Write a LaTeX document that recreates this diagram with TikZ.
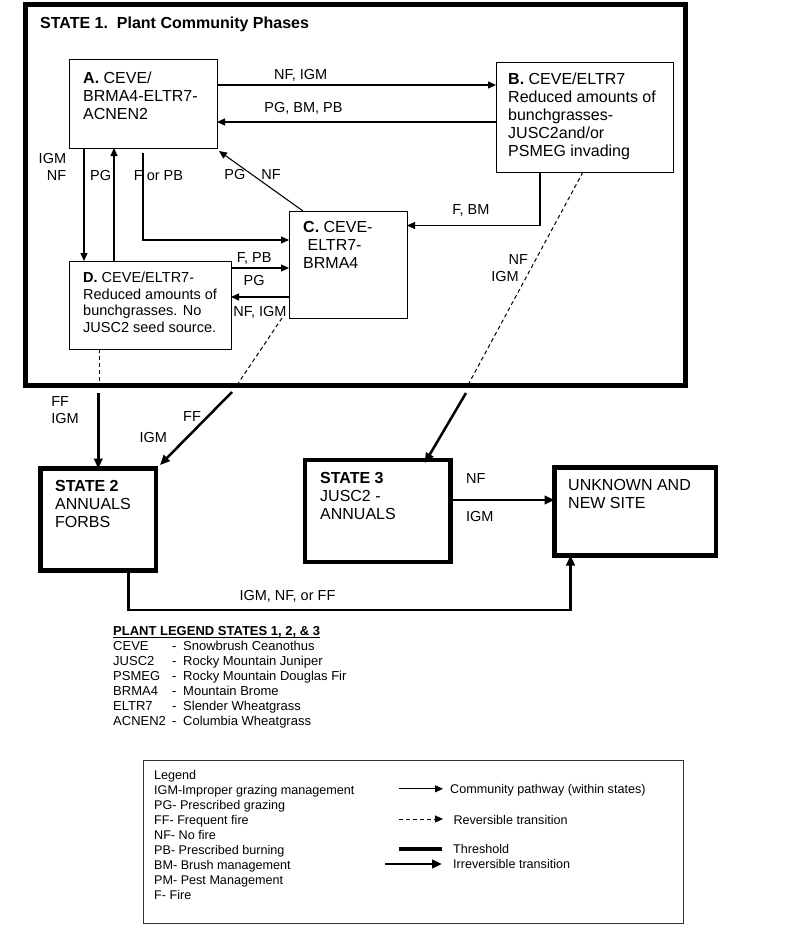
\documentclass[tikz,border=0pt]{standalone}
\usepackage{fontspec}
\setmainfont{Liberation Sans}
\usetikzlibrary{arrows.meta}

\newcommand{\boxfont}{\fontsize{16}{18}\selectfont}
\newcommand{\smallboxfont}{\fontsize{14.5}{16.5}\selectfont}
\newcommand{\labfont}{\fontsize{14.5}{17}\selectfont}
\newcommand{\legfont}{\fontsize{12.6}{15}\selectfont}
\newcommand{\plantfont}{\fontsize{13}{15}\selectfont}
\newcommand{\plantrow}[2]{\makebox[59pt][l]{#1}\makebox[11pt][l]{-}#2}

\tikzset{
  phase/.style={draw, line width=1pt, anchor=north west, inner sep=0pt, outer sep=0pt},
  statebox/.style={draw, line width=4.5pt, anchor=north west, inner sep=0pt, outer sep=0pt},
  boxtext/.style={anchor=north west, align=left, inner sep=0pt, font=\boxfont},
  lab/.style={font=\labfont},
  legitem/.style={anchor=base west, inner sep=0pt, font=\legfont},
  pathway/.style={line width=1.1pt, -{Triangle[length=8pt,width=7pt]}},
  revtrans/.style={line width=1pt, dash pattern=on 4pt off 3pt},
  irrevtrans/.style={line width=2.5pt, -{Triangle[length=10pt,width=8.5pt]}},
  threshold/.style={line width=4pt}
}

\begin{document}
\begin{tikzpicture}[x=1pt,y=-1pt]
  % Seite
  \fill[white] (0,0) rectangle (800,934);
  \useasboundingbox (0,0) rectangle (800,934);

  % State 1 frame
  \node[statebox, line width=5pt, minimum width=660pt, minimum height=380.5pt,
    label={[boxtext, font=\boxfont\bfseries, xshift=14.5pt, yshift=-11.2pt]north west:{\strut STATE 1.~~Plant Community Phases}}] (s1) at (25.5,4.5) {};

  % Community phases
  \node[phase, minimum width=148pt, minimum height=88pt,
    label={[boxtext, xshift=14pt, yshift=-10.7pt]north west:{\strut\textbf{A.} CEVE/\\BRMA4-ELTR7-\\ACNEN2}}] (A) at (69,60) {};
  \node[phase, minimum width=177pt, minimum height=109pt,
    label={[boxtext, xshift=12pt, yshift=-9.1pt]north west:{\strut\textbf{B.} CEVE/ELTR7\\Reduced amounts of\\bunchgrasses-\\JUSC2and/or\\PSMEG invading}}] (B) at (496,63) {};
  \node[phase, minimum width=118pt, minimum height=107pt,
    label={[boxtext, xshift=14pt, yshift=-9.1pt]north west:{\strut\textbf{C.} CEVE-\\\hspace*{4.4pt}ELTR7-\\BRMA4}}] (C) at (289,211) {};
  \node[phase, minimum width=162pt, minimum height=88pt,
    label={[boxtext, font=\smallboxfont, xshift=14pt, yshift=-9.75pt]north west:{\strut\textbf{D.} CEVE/ELTR7-\\Reduced amounts of\\bunchgrasses. No\\JUSC2 seed source.}}] (D) at (69,261) {};

  % States 2, 3 and unknown site
  \node[statebox, minimum width=115.5pt, minimum height=102pt,
    label={[boxtext, xshift=14.5pt, yshift=-10.6pt]north west:{\strut\textbf{STATE 2}\\ANNUALS\\FORBS}}] (s2) at (40.5,468.5) {};
  \node[statebox, minimum width=145.5pt, minimum height=102pt,
    label={[boxtext, xshift=15pt, yshift=-10.7pt]north west:{\strut\textbf{STATE 3}\\JUSC2 -\\ANNUALS}}] (s3) at (305,460) {};
  \node[statebox, minimum width=161.5pt, minimum height=88pt,
    label={[boxtext, xshift=13.5pt, yshift=-10.6pt]north west:{\strut UNKNOWN AND\\NEW SITE}}] (unk) at (554.5,467.5) {};

  % Pathways within state 1
  \draw[pathway] ([yshift=19pt]A.east) -- ([yshift=19pt]A.east -| B.west)
    node[lab, pos=0.3, above] {NF, IGM};
  \draw[pathway] ([yshift=-18pt]A.east -| B.west) -- ([yshift=-18pt]A.east)
    node[lab, pos=0.69, above=3.5pt] {PG, BM, PB};
  \draw[pathway] ([xshift=15pt]A.south west) -- ([xshift=15pt]A.south west |- D.north)
    node[lab, pos=0.17, left=14pt, align=right] {IGM\\NF};
  \draw[pathway] ([xshift=45pt]D.north west) -- ([xshift=45pt]D.north west |- A.south)
    node[lab, pos=0.76, left=-1pt] {PG};
  \draw[pathway] ([shift={(74pt,-5pt)}]A.south west) |- ([yshift=24.5pt]C.west)
    node[lab, pos=0.13, right=-13pt] {F or PB};
  \draw[pathway] ([xshift=14pt]C.north west) -- ([shift={(2pt,-3pt)}]A.south east)
    node[lab, pos=0.6, inner sep=0pt] {PG\hspace{16pt}NF};
  \draw[pathway] ([xshift=44pt]B.south west) |- ([yshift=39pt]C.east)
    node[lab, pos=0.76, above=5.5pt] {F, BM};
  \draw[pathway] ([yshift=37pt]D.east) -- ([yshift=37pt]D.east -| C.west)
    node[lab, pos=0.4, above=0pt] {F, PB}
    node[lab, pos=0.4, below=3pt] {PG};
  \draw[pathway] ([yshift=-32.5pt]C.west) -- ([yshift=-32.5pt]C.west -| D.east)
    node[lab, midway, below=5pt] {NF, IGM};

  % Transitions out of state 1
  \coordinate (c1) at (237,385);
  \coordinate (c2) at (232,392);
  \coordinate (b1) at (468,385);
  \coordinate (b2) at (466,393);

  \draw[revtrans] ([xshift=30pt]D.south west) -- ([xshift=30pt]D.south west |- s1.south);
  \draw[irrevtrans] ([yshift=-8pt]s1.south -| s2.north) -- (s2.north)
    node[lab, pos=0.23, left=15pt, align=left] {FF\\IGM};

  \draw[revtrans] ([xshift=-7pt]C.south west) -- (c1);
  \draw[irrevtrans] (c2) -- ([shift={(4pt,3.5pt)}]s2.north east)
    node[lab, pos=0.34, left=2pt] {FF}
    node[lab, pos=0.63, left=15pt] {IGM};

  \draw[revtrans] ([xshift=87pt]B.south west) -- (b1)
    node[lab, pos=0.41, left=4pt] {NF}
    node[lab, pos=0.49, left=4pt] {IGM};
  \draw[irrevtrans] (b2) -- ([shift={(47pt,-3pt)}]s3.north);

  % Transitions to unknown site
  \draw[irrevtrans] ([yshift=11pt]s3.east) -- ([yshift=11pt]s3.east -| unk.west)
    node[lab, pos=0, anchor=base west, xshift=11pt, yshift=16.7pt] {NF}
    node[lab, pos=0, anchor=base west, xshift=11pt, yshift=-21.7pt] {IGM};
  \draw[irrevtrans] ([xshift=30pt]s2.south) -- ++(0,39.5) -| ([xshift=16pt]unk.south west)
    node[lab, pos=0.18, above=3pt] {IGM, NF, or FF};

  % Plant legend
  \node[anchor=base west, inner sep=0pt, font=\plantfont\bfseries] (pltitle) at (113,635)
    {PLANT LEGEND STATES 1, 2, \& 3};
  \draw[line width=0.9pt] ([yshift=-2.5pt]pltitle.base west) -- ([yshift=-2.5pt]pltitle.base east);
  \node[anchor=north west, inner sep=0pt, align=left, font=\plantfont] (plants) at (113,640.2)
    {\strut\plantrow{CEVE}{Snowbrush Ceanothus}\\
     \plantrow{JUSC2}{Rocky Mountain Juniper}\\
     \plantrow{PSMEG}{Rocky Mountain Douglas Fir}\\
     \plantrow{BRMA4}{Mountain Brome}\\
     \plantrow{ELTR7}{Slender Wheatgrass}\\
     \plantrow{ACNEN2}{Columbia Wheatgrass}};

  % Legend
  \node[draw, black!80, line width=0.8pt, anchor=north west, inner sep=0pt, outer sep=0pt,
    minimum width=540pt, minimum height=163pt] (legbox) at (143,760) {};
  \node[anchor=north west, inner sep=0pt, align=left, font=\legfont] (legtext) at (154,768.5)
    {\strut Legend\\
     IGM-Improper grazing management\\
     PG- Prescribed grazing\\
     FF- Frequent fire\\
     NF- No fire\\
     PB- Prescribed burning\\
     BM- Brush management\\
     PM- Pest Management\\
     F- Fire};
  \node[legitem] (lgpath) at (450,793.3) {Community pathway (within states)};
  \node[legitem] (lgrev) at (453.3,824) {Reversible transition};
  \node[legitem] (lgthr) at (453,853.3) {Threshold};
  \node[legitem] (lgirr) at (453,868.3) {Irreversible transition};

  \draw[pathway] ([shift={(-51pt,4.5pt)}]lgpath.base west) -- ([shift={(-7pt,4.5pt)}]lgpath.base west);
  \draw[revtrans, -{Triangle[length=8pt,width=7pt]}] ([shift={(-54.3pt,5pt)}]lgrev.base west) -- ([shift={(-10.3pt,5pt)}]lgrev.base west);
  \draw[threshold] ([shift={(-54pt,4.3pt)}]lgthr.base west) -- ([shift={(-11pt,4.3pt)}]lgthr.base west);
  \draw[irrevtrans] ([shift={(-68pt,4.3pt)}]lgirr.base west) -- ([shift={(-11pt,4.3pt)}]lgirr.base west);
\end{tikzpicture}
\end{document}
